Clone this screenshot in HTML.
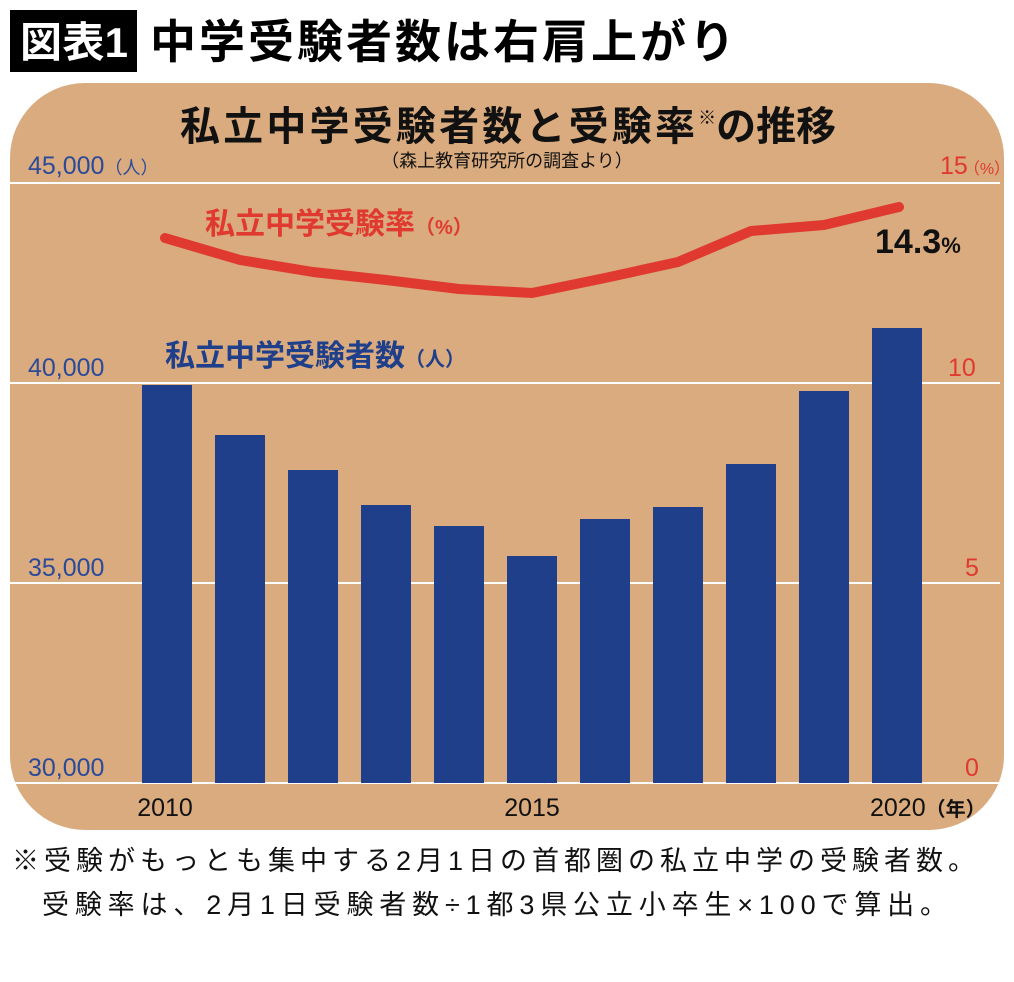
<!DOCTYPE html>
<html><head><meta charset="utf-8"><style>
body{margin:0;background:#fff;width:1014px;height:982px;overflow:hidden;font-family:"Liberation Sans","Noto Sans CJK JP",sans-serif;}
</style></head><body>
<svg width="1014" height="982" xmlns="http://www.w3.org/2000/svg" style="position:absolute;left:0;top:0">
<rect x="10" y="10" width="127" height="62" fill="#000"/>
<text x="20" y="57" fill="#fff" font-size="42" font-weight="bold" textLength="108" font-family="Liberation Sans,Noto Sans CJK JP,sans-serif">図表1</text>
<text x="150" y="58" fill="#000" font-size="46" font-weight="bold" textLength="585" font-family="Liberation Sans,Noto Sans CJK JP,sans-serif">中学受験者数は右肩上がり</text>
<rect x="10" y="83" width="994" height="747" rx="75" fill="#d9ab7e"/>
<g stroke="#fff" stroke-width="2">
<line x1="10" y1="183" x2="1000" y2="183"/><line x1="10" y1="383" x2="1000" y2="383"/>
<line x1="10" y1="583" x2="1000" y2="583"/><line x1="10" y1="783" x2="1000" y2="783"/>
</g>
<text x="180" y="140" font-size="40" font-weight="bold" fill="#111" font-family="Liberation Sans,Noto Sans CJK JP,sans-serif"><tspan textLength="515">私立中学受験者数と受験率</tspan><tspan font-size="18" dy="-16">※</tspan><tspan dy="16" textLength="120">の推移</tspan></text>
<text x="507" y="167" font-size="18" text-anchor="middle" fill="#111" font-family="Liberation Sans,Noto Sans CJK JP,sans-serif">（森上教育研究所の調査より）</text>
<g fill="#1f3f8a">
<rect x="142" y="385" width="50" height="398"/><rect x="215" y="435" width="50" height="348"/>
<rect x="288" y="470" width="50" height="313"/><rect x="361" y="505" width="50" height="278"/>
<rect x="434" y="526" width="50" height="257"/><rect x="507" y="556" width="50" height="227"/>
<rect x="580" y="519" width="50" height="264"/><rect x="653" y="507" width="50" height="276"/>
<rect x="726" y="464" width="50" height="319"/><rect x="799" y="391" width="50" height="392"/>
<rect x="872" y="328" width="50" height="455"/>
</g>
<polyline fill="none" stroke="#e03a30" stroke-width="10" stroke-linecap="round" stroke-linejoin="round" points="165,238 240,260 313,272 386,280 459,289 532,293 605,278 678,262 751,231 824,225 899,207"/>
<g font-family="Liberation Sans Narrow,Liberation Sans,Noto Sans CJK JP,sans-serif" font-size="25">
<text x="28" y="174" fill="#2b4a9a">45,000<tspan font-size="18">（人）</tspan></text>
<text x="28" y="376" fill="#2b4a9a">40,000</text>
<text x="28" y="576" fill="#2b4a9a">35,000</text>
<text x="28" y="776" fill="#2b4a9a">30,000</text>
<text x="940" y="174" fill="#e03a30">15<tspan font-size="16" dx="-4">（%）</tspan></text>
<text x="948" y="376" fill="#e03a30">10</text>
<text x="965" y="576" fill="#e03a30">5</text>
<text x="965" y="776" fill="#e03a30">0</text>
<text x="165" y="816" fill="#111" text-anchor="middle">2010</text>
<text x="532" y="816" fill="#111" text-anchor="middle">2015</text>
<text x="870" y="816" fill="#111">2020<tspan font-size="20" font-weight="bold">（年）</tspan></text>
</g>
<text x="205" y="234" fill="#e03a30" font-size="30" font-weight="bold" font-family="Liberation Sans,Noto Sans CJK JP,sans-serif">私立中学受験率<tspan font-size="20">（%）</tspan></text>
<text x="165" y="366" fill="#1f3f8a" font-size="30" font-weight="bold" font-family="Liberation Sans,Noto Sans CJK JP,sans-serif">私立中学受験者数<tspan font-size="20">（人）</tspan></text>
<text x="875" y="253" fill="#111" font-size="34" font-weight="bold" font-family="Liberation Sans,sans-serif">14.3<tspan font-size="22">%</tspan></text>
<g font-size="27" fill="#111" font-family="Liberation Sans,Noto Sans CJK JP,sans-serif">
<text x="12" y="870" textLength="963">※受験がもっとも集中する2月1日の首都圏の私立中学の受験者数。</text>
<text x="42" y="914" textLength="905">受験率は、2月1日受験者数÷1都3県公立小卒生×100で算出。</text>
</g>
</svg>
</body></html>
